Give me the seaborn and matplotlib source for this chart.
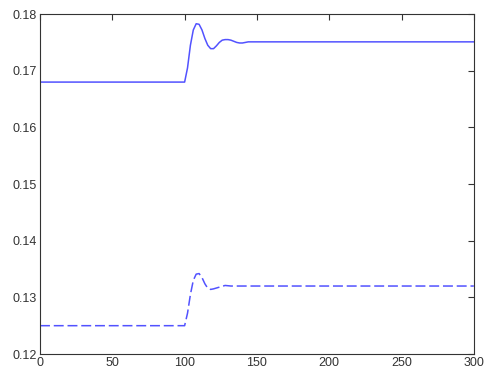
import matplotlib
matplotlib.use("Agg")
import matplotlib.pyplot as plt
import seaborn as sns
import pandas as pd

solid_x = [0, 100, 102, 104, 106, 108, 110, 112, 114, 116, 118, 120, 122, 124, 126,
           128, 130, 132, 134, 136, 138, 140, 142, 144, 146, 300]
solid_y = [0.168, 0.168, 0.1705, 0.1745, 0.1772, 0.1783, 0.1782, 0.1772, 0.1757, 0.1745,
           0.1739, 0.1739, 0.1744, 0.1750, 0.1754, 0.1755, 0.1755, 0.1754, 0.1752, 0.1750,
           0.1749, 0.1749, 0.1750, 0.1751, 0.1751, 0.1751]

dashed_x = [0, 100, 102, 104, 106, 108, 110, 112, 114, 116, 118, 120, 124, 128, 132, 300]
dashed_y = [0.125, 0.125, 0.1272, 0.1305, 0.1330, 0.1341, 0.1342, 0.1335, 0.1324, 0.1316,
            0.1314, 0.1315, 0.1318, 0.1321, 0.1320, 0.1320]

x_ticks = [0, 50, 100, 150, 200, 250, 300]
y_ticks = [0.12, 0.13, 0.14, 0.15, 0.16, 0.17, 0.18]
y_labels = ["0.12", "0.13", "0.14", "0.15", "0.16", "0.17", "0.18"]

sns.set_style("white")
plt.rcParams["font.family"] = ["Liberation Sans", "DejaVu Sans"]

df_s = pd.DataFrame({"t": solid_x, "v": solid_y})
df_d = pd.DataFrame({"t": dashed_x, "v": dashed_y})

fig = plt.figure(figsize=(4.85, 3.71), dpi=100)
ax = fig.add_axes([0.0825, 0.0458, 0.8945, 0.9162])

color = "#5252ff"
sns.lineplot(data=df_s, x="t", y="v", ax=ax, color=color, lw=1.1, estimator=None, sort=False)
sns.lineplot(data=df_d, x="t", y="v", ax=ax, color=color, lw=1.1, estimator=None, sort=False,
             dashes=False)
ax.lines[-1].set_dashes((6.5, 2.5))

ax.set_xlim(0, 300)
ax.set_ylim(0.12, 0.18)
ax.set_xticks(x_ticks)
ax.set_yticks(y_ticks)
ax.set_yticklabels(y_labels)
ax.set_xlabel("")
ax.set_ylabel("")
ax.tick_params(direction="in", length=4, width=0.8, colors="#333333", labelsize=9,
               top=True, right=True, pad=2)
ax.tick_params(axis="x", pad=2)
for s in ax.spines.values():
    s.set_visible(True)
    s.set_color("#333333")
    s.set_linewidth(0.8)

fig.savefig("out.png", dpi=100)
